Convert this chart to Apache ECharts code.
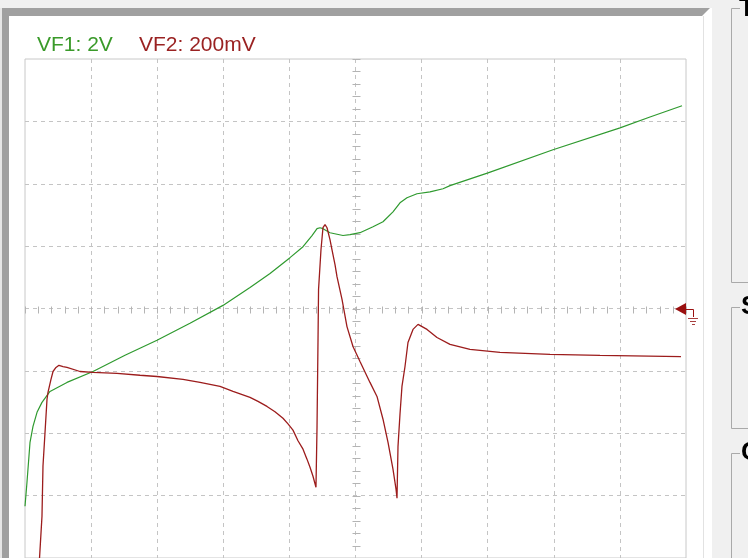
<!DOCTYPE html>
<html><head><meta charset="utf-8">
<script src="https://cdn.jsdelivr.net/npm/echarts@6/dist/echarts.min.js"></script>
<style>html,body{margin:0;padding:0;background:#ffffff}#c{width:748px;height:558px}</style>
</head><body><div id="c"></div>
<script>
// ---- data (time in screen divisions, values in volts) ----
const channelLabels = ['VF1: 2V', 'VF2: 200mV'];
const groupTitles = ['T', 'S', 'C'];

const vf1Time = [0, 0.030, 0.076, 0.121, 0.182, 0.257, 0.378, 0.635, 1.029, 1.513, 1.997, 2.496, 2.995, 3.404, 3.707, 4.009, 4.206, 4.342, 4.418, 4.463, 4.508, 4.614, 4.811, 4.917, 5.068, 5.265, 5.416, 5.567, 5.673, 5.779, 5.930, 6.127, 6.324, 6.430, 7.005, 7.988, 9.002, 9.455, 9.940];
const vf1Volts = [-6.34, -5.57, -4.29, -3.78, -3.33, -3.01, -2.66, -2.37, -2.02, -1.50, -1.02, -0.47, 0.10, 0.67, 1.12, 1.63, 1.98, 2.34, 2.56, 2.59, 2.56, 2.43, 2.34, 2.37, 2.43, 2.62, 2.78, 3.10, 3.39, 3.55, 3.68, 3.74, 3.84, 3.94, 4.35, 5.09, 5.79, 6.14, 6.50];

const vf2Time = [0.219, 0.257, 0.272, 0.303, 0.333, 0.348, 0.393, 0.424, 0.469, 0.514, 0.575, 0.635, 0.832, 1.029, 1.392, 1.740, 1.997, 2.390, 2.648, 2.950, 3.147, 3.404, 3.525, 3.661, 3.782, 3.903, 3.979, 4.054, 4.130, 4.206, 4.266, 4.312, 4.357, 4.402, 4.418, 4.433, 4.441, 4.478, 4.508, 4.539, 4.569, 4.614, 4.644, 4.690, 4.720, 4.796, 4.871, 4.962, 5.068, 5.219, 5.325, 5.416, 5.492, 5.567, 5.613, 5.628, 5.643, 5.673, 5.703, 5.749, 5.794, 5.870, 5.946, 6.082, 6.233, 6.430, 6.732, 7.186, 7.943, 8.699, 9.924];
const vf2Volts = [-0.803, -0.666, -0.506, -0.397, -0.291, -0.269, -0.227, -0.202, -0.189, -0.182, -0.186, -0.189, -0.202, -0.205, -0.208, -0.214, -0.218, -0.227, -0.237, -0.250, -0.266, -0.285, -0.298, -0.314, -0.331, -0.352, -0.370, -0.390, -0.424, -0.451, -0.483, -0.509, -0.538, -0.573, -0.378, -0.099, 0.061, 0.189, 0.259, 0.269, 0.259, 0.221, 0.189, 0.141, 0.102, 0.029, -0.058, -0.122, -0.170, -0.237, -0.282, -0.355, -0.429, -0.515, -0.579, -0.608, -0.442, -0.339, -0.250, -0.186, -0.109, -0.067, -0.051, -0.067, -0.093, -0.115, -0.131, -0.141, -0.147, -0.150, -0.154];

// ---- scales ----
const divisionsX = 10, divisionsY = 8;
const vf1PerDiv = 2, vf2PerDiv = 0.2;
const minorPerDiv = 5;

const green = '#2f9a2f', red = '#9c1c1c', gridGray = '#c4c4c4';

const zip = (a, b) => a.map((v, i) => [v, b[i]]);

const xTicks = [];
for (let i = 0; i <= divisionsX * minorPerDiv; i++) xTicks.push([i / minorPerDiv]);
const yTicks = [];
for (let i = 0; i <= divisionsY * minorPerDiv; i++) yTicks.push([(-divisionsY / 2 + i / minorPerDiv) * vf1PerDiv]);

const chart = echarts.init(document.getElementById('c'), null, {renderer: 'canvas'});

function tickRenderer(dir) {
  return function (params, api) {
    const p = dir === 'x' ? api.coord([api.value(0), 0]) : api.coord([divisionsX / 2, api.value(0)]);
    const x = Math.round(p[0]) + 0.5, y = Math.round(p[1]) + 0.5;
    const shape = dir === 'x' ? {x1: x, y1: y - 3, x2: x, y2: y + 4} : {x1: x - 4, y1: y, x2: x + 4, y2: y};
    return {type: 'line', shape: shape, style: {stroke: '#b4b4b4', lineWidth: 1}};
  };
}

const dashed = {show: true, lineStyle: {color: gridGray, type: [4, 4], width: 1}, showMinLine: false, showMaxLine: false};

chart.setOption({
  animation: false,
  backgroundColor: '#ffffff',
  grid: {left: 25, top: 59, width: 661, height: 500, show: true, borderColor: '#c8c8c8', borderWidth: 1, backgroundColor: 'transparent'},
  xAxis: {type: 'value', min: 0, max: divisionsX, interval: 1, axisLine: {show: false}, axisTick: {show: false}, axisLabel: {show: false}, splitLine: dashed},
  yAxis: [
    {type: 'value', min: -divisionsY / 2 * vf1PerDiv, max: divisionsY / 2 * vf1PerDiv, interval: vf1PerDiv, axisLine: {show: false}, axisTick: {show: false}, axisLabel: {show: false}, splitLine: dashed},
    {type: 'value', min: -divisionsY / 2 * vf2PerDiv, max: divisionsY / 2 * vf2PerDiv, interval: vf2PerDiv, show: false, splitLine: {show: false}}
  ],
  series: [
    {type: 'custom', name: 'xticks', data: xTicks, renderItem: tickRenderer('x'), yAxisIndex: 0, silent: true, z: 1},
    {type: 'custom', name: 'yticks', data: yTicks, renderItem: tickRenderer('y'), yAxisIndex: 0, silent: true, z: 1},
    {type: 'line', name: channelLabels[0], data: zip(vf1Time, vf1Volts), yAxisIndex: 0, showSymbol: false, symbol: 'none', lineStyle: {color: green, width: 1.2}, itemStyle: {color: green}, z: 3},
    {type: 'line', name: channelLabels[1], data: zip(vf2Time, vf2Volts), yAxisIndex: 1, showSymbol: false, symbol: 'none', lineStyle: {color: red, width: 1.3}, itemStyle: {color: red}, z: 4}
  ]
});

// ground marker for VF2 at its 0 V level, right edge of the screen
const g0 = chart.convertToPixel({xAxisIndex: 0, yAxisIndex: 1}, [divisionsX, 0]);
const gx = Math.round(g0[0]), gy = Math.round(g0[1]);

const boxStroke = '#a9a9a9';
chart.setOption({
  graphic: [
    // window frame
    {type: 'rect', shape: {x: 0, y: 0, width: 748, height: 8}, style: {fill: '#f0f0f0'}, z: 0},
    {type: 'polygon', shape: {points: [[0, 8], [710, 8], [702, 16], [9, 16]]}, style: {fill: '#a0a0a0'}, z: 0},
    {type: 'rect', shape: {x: 2, y: 8, width: 7, height: 550}, style: {fill: '#a0a0a0'}, z: 0},
    {type: 'rect', shape: {x: 0, y: 8, width: 2, height: 550}, style: {fill: '#e6e6e6'}, z: 0},
    {type: 'line', shape: {x1: 703.5, y1: 16, x2: 703.5, y2: 558}, style: {stroke: '#e2e2e2', lineWidth: 1}, z: 0},
    {type: 'rect', shape: {x: 712, y: 0, width: 36, height: 558}, style: {fill: '#f0f0f0'}, z: 0},
    // group boxes on the side panel
    {type: 'polyline', shape: {points: [[740, 8.5], [731.5, 8.5], [731.5, 282.5], [748, 282.5]]}, style: {stroke: boxStroke, lineWidth: 1, fill: null}, z: 1},
    {type: 'polyline', shape: {points: [[740, 307.5], [731.5, 307.5], [731.5, 428.5], [748, 428.5]]}, style: {stroke: boxStroke, lineWidth: 1, fill: null}, z: 1},
    {type: 'polyline', shape: {points: [[740, 453.5], [731.5, 453.5], [731.5, 558]]}, style: {stroke: boxStroke, lineWidth: 1, fill: null}, z: 1},
    {type: 'text', style: {x: 739, y: 9, text: groupTitles[0], font: 'bold 26px "Liberation Sans", Arial, sans-serif', fill: '#000', verticalAlign: 'middle'}, z: 2},
    {type: 'text', style: {x: 741, y: 307, text: groupTitles[1], font: 'bold 26px "Liberation Sans", Arial, sans-serif', fill: '#000', verticalAlign: 'middle'}, z: 2},
    {type: 'text', style: {x: 741, y: 453, text: groupTitles[2], font: 'bold 26px "Liberation Sans", Arial, sans-serif', fill: '#000', verticalAlign: 'middle'}, z: 2},
    // channel labels
    {type: 'text', style: {x: 37, y: 45, text: channelLabels[0], font: '21px "Liberation Sans", Arial, sans-serif', fill: '#3a9a2a', verticalAlign: 'middle'}, z: 5},
    {type: 'text', style: {x: 139, y: 45, text: channelLabels[1], font: '21px "Liberation Sans", Arial, sans-serif', fill: '#9a2222', verticalAlign: 'middle'}, z: 5},
    // ground marker
    {type: 'polygon', shape: {points: [[gx - 11, gy], [gx, gy - 6], [gx, gy + 6]]}, style: {fill: '#9a1010'}, z: 6},
    {type: 'polyline', shape: {points: [[gx, gy + 0.5], [gx + 7.5, gy + 0.5], [gx + 7.5, gy + 8]]}, style: {stroke: '#9a1010', lineWidth: 1, fill: null}, z: 6},
    {type: 'line', shape: {x1: gx + 2, y1: gy + 9.5, x2: gx + 12, y2: gy + 9.5}, style: {stroke: '#a84040', lineWidth: 1}, z: 6},
    {type: 'line', shape: {x1: gx + 4, y1: gy + 12.5, x2: gx + 10, y2: gy + 12.5}, style: {stroke: '#a84040', lineWidth: 1}, z: 6},
    {type: 'line', shape: {x1: gx + 6, y1: gy + 15.5, x2: gx + 9, y2: gy + 15.5}, style: {stroke: '#a84040', lineWidth: 1}, z: 6}
  ]
});
</script>
</body></html>
